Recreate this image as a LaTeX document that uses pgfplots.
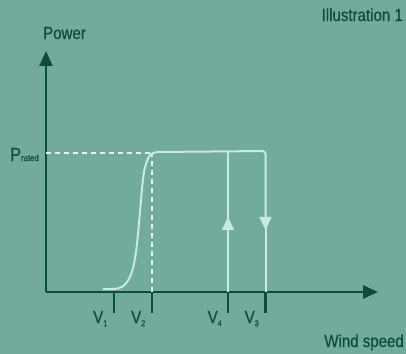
\documentclass[border=0pt]{standalone}
\usepackage{fontspec}
\setmainfont{Liberation Sans}[FakeStretch=0.86, FakeBold=0.6]
\usepackage{pgfplots}
\pgfplotsset{compat=1.18}
\usetikzlibrary{arrows.meta}
\definecolor{bg}{HTML}{72AB9D}
\definecolor{dk}{HTML}{0C4D3F}
\definecolor{lt}{HTML}{C8EBDF}
\definecolor{wh}{HTML}{E6F6F0}
\newcommand{\bigfont}{\fontsize{17.5bp}{20bp}\selectfont}
\newcommand{\sub}[1]{\raisebox{-0.35ex}{\fontsize{8.5bp}{9bp}\selectfont #1}}
\begin{document}
\begin{tikzpicture}[x=1bp,y=1bp]
\fill[bg] (0,0) rectangle (406,354);
\begin{axis}[
  at={(46bp,62bp)}, anchor=origin,
  scale only axis, width=332bp, height=241bp,
  xmin=0, xmax=332, ymin=0, ymax=241,
  axis lines=left,
  axis line style={dk, line width=2.5bp},
  x axis line style={-{Triangle[length=15bp,width=13bp]}},
  y axis line style={-{Triangle[length=15bp,width=13bp]}},
  xtick={68,106,182,219.5}, xticklabels={},
  ytick=\empty,
  tick align=outside, major tick length=21bp,
  xtick style={dk, line width=2.5bp},
  clip=false,
]
% dashed guides
\addplot[wh, line width=1.5bp, dash pattern=on 5bp off 4bp] coordinates {(0,139) (106,139)};
\addplot[wh, line width=1.5bp, dash pattern=on 5bp off 4bp] coordinates {(106,0) (106,139)};
% power curve (S part)
\addplot[lt, line width=2bp, smooth, tension=0.5] coordinates {
 (57,3) (66,3) (72,3.6) (78,6.5) (83,13) (87,24) (90,40) (92,58) (94,80)
 (96,103) (98,120) (101,131) (104,137) (108,139.3) (113,140)};
% plateau and cut-out
\addplot[lt, line width=2bp, rounded corners=3bp, -{Triangle[length=13bp,width=12bp]}]
 coordinates {(112,140) (219.5,141) (219.5,62)};
\addplot[lt, line width=2bp] coordinates {(219.5,64) (219.5,0)};
% cut-in back
\addplot[lt, line width=2bp] coordinates {(182,140.5) (182,73)};
\addplot[lt, line width=2bp, -{Triangle[length=13bp,width=12bp]}] coordinates {(182,0) (182,75)};
% tick labels
\node[dk, anchor=base east, inner sep=0pt, font=\bigfont] at (axis cs:61.5,-31) {V\sub{1}};
\node[dk, anchor=base east, inner sep=0pt, font=\bigfont] at (axis cs:99.5,-31) {V\sub{2}};
\node[dk, anchor=base east, inner sep=0pt, font=\bigfont] at (axis cs:176,-31) {V\sub{4}};
\node[dk, anchor=base east, inner sep=0pt, font=\bigfont] at (axis cs:213,-31) {V\sub{3}};
\end{axis}
\node[dk, anchor=base east, inner sep=0pt, font=\bigfont] at (403,333) {Illustration 1};
\node[dk, anchor=base west, inner sep=0pt, font=\bigfont] at (43,315) {Power};
\node[dk, anchor=base east, inner sep=0pt, font=\bigfont] at (404,7) {Wind speed};
\node[dk, anchor=base west, inner sep=0pt] at (10,193) {{\fontsize{19bp}{20bp}\selectfont P}{\fontsize{9bp}{10bp}\selectfont rated}};
\pgfresetboundingbox
\useasboundingbox (0,0) rectangle (406,354);
\end{tikzpicture}
\end{document}
